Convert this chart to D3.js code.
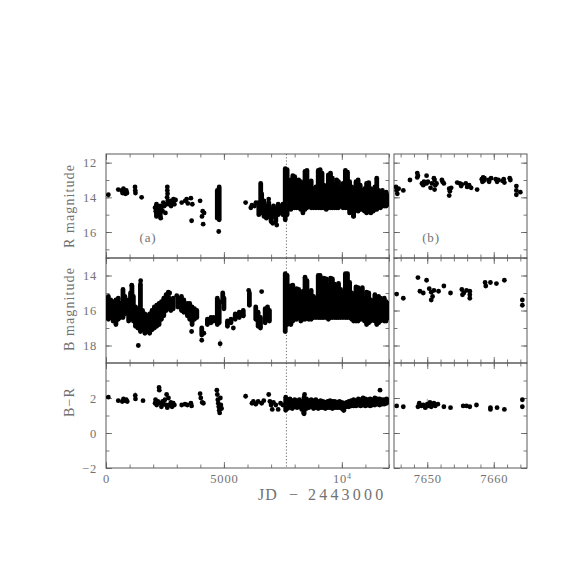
<!DOCTYPE html>
<html><head><meta charset="utf-8">
<script src="https://cdn.jsdelivr.net/npm/d3@7"></script>
<style>html,body{margin:0;padding:0;background:#fff}</style>
</head><body><svg id="c" width="574" height="574"></svg>
<script>
// ---------- DATA (JD - 2443000, magnitudes / colour) ----------
// Left panels: full light curve. Individual points [jd, value]
const rPoints = [[100,13.85],[520,13.55],[660,13.6],[700,13.75],[740,13.5],[780,13.65],[820,13.8],[860,13.6],[890,13.75],[1230,13.4],[1240,13.6],[1250,13.75],[1510,14.0],
 [2080,14.6],[2110,14.8],[2160,14.5],[2180,15.0],[2230,14.7],[2270,14.9],[2320,15.2],[2350,14.6],[2400,14.8],[2430,14.3],[2470,14.5],[2520,14.9],[2560,14.4],[2600,13.4],[2600,13.6],[2610,13.8],[2590,14.0],[2620,14.2],[2680,14.4],[2720,14.2],[2760,14.5],[2810,14.3],[2860,14.1],[2900,14.4],[2950,14.15],
 [3210,14.3],[3360,14.2],[3420,14.1],[3470,14.35],[3600,14.05],[3660,14.4],[3630,15.35],[3990,14.2],[4070,15.1],[4100,14.8],[4120,15.55],[4160,14.9],
 [4780,15.97],[5920,14.3],[6140,14.6],[6190,14.45],[6300,14.5],[6360,14.3],[6900,14.1],[7070,15.5],[7240,15.6],[10490,15.08]];
// Densely sampled nights: [jd, brightest, faintest]
const rColumns = [[2140,14.4,15.1],[2300,14.5,15.1],[4720,13.6,15.2],[4800,13.4,15.3],[6480,14.3,15.0],[6560,13.2,14.4],[6600,13.8,14.9],[6700,14.2,15.1],[6800,14.5,15.2],[6900,14.3,15.1],[7000,14.7,15.4],[7100,14.5,15.1],[7200,14.6,15.4],[7300,14.4,15.0],[7400,14.5,14.9],[7500,14.4,15.0],
 [7600,12.35,15.3],[7680,12.4,15.0],[7760,13.3,14.6],[7840,13.0,14.7],[7920,12.75,14.6],[8000,12.8,14.6],[8080,13.2,14.6],[8170,13.0,14.6],[8260,13.1,14.7],[8350,13.5,14.9],[8440,12.5,14.7],[8520,12.45,14.6],[8600,13.3,14.5],[8700,13.05,14.6],[8800,13.5,14.6],[8900,13.4,14.6],
 [9000,12.45,14.6],[9080,12.4,14.6],[9160,12.6,14.6],[9240,13.3,14.6],[9340,13.4,14.7],[9430,12.7,14.6],[9520,12.6,14.6],[9600,12.9,14.6],[9700,13.3,14.6],[9780,13.0,14.6],[9860,13.1,14.6],[9950,13.5,14.5],
 [10050,13.2,14.6],[10150,12.45,14.6],[10240,12.55,14.6],[10330,13.1,14.9],[10420,13.4,14.8],[10500,13.6,15.1],[10600,13.1,14.7],[10690,13.0,14.8],[10780,13.3,14.7],[10870,13.6,14.7],[10960,13.5,14.8],
 [11050,13.2,14.9],[11140,13.15,14.8],[11230,13.5,14.9],[11330,13.7,14.8],[11400,13.4,14.7],[11480,12.9,14.7],[11560,13.6,14.6],[11640,13.7,14.6],[11720,13.6,14.5],[11800,13.8,14.5],[11880,13.7,14.5],[11950,13.9,14.4]];

const bPoints = [[1370,18.0],[1470,14.3],[1090,14.55],[2640,14.95],[2700,15.0],[3000,15.15],[3630,17.2],[4060,17.7],[4840,17.9],[6050,14.85],[6600,14.92],[5400,17.0],[5820,16.3],[4150,17.3]];
const bColumns = [[30,15.3,16.2],[100,15.2,16.5],[200,15.4,16.4],[300,15.5,16.6],[420,15.4,16.8],[520,15.3,16.5],[600,15.6,16.4],[720,14.8,16.4],[800,15.2,16.2],[960,15.4,16.6],[1040,15.0,16.5],[1100,14.6,16.3],[1160,15.2,16.6],[1250,15.8,16.9],[1350,15.9,17.0],[1460,14.5,17.2],
 [1550,16.0,17.1],[1650,16.2,17.3],[1750,16.3,17.2],[1850,16.2,17.3],[1950,16.0,17.1],[2050,15.8,17.0],[2150,15.7,16.9],[2250,15.6,16.8],[2350,15.5,16.5],[2450,15.3,16.3],[2550,15.1,16.0],[2650,15.2,15.9],[2750,15.4,16.0],[2850,15.3,15.9],[3050,15.3,15.8],[3200,15.2,16.0],[3300,15.4,16.1],[3450,15.6,16.3],[3550,15.6,16.5],[3650,15.8,16.8],[3750,15.9,16.5],[3850,16.0,16.4],
 [4060,17.0,17.4],[4300,16.5,16.8],[4450,16.4,16.7],[4560,16.4,16.6],[4720,15.3,16.8],[4800,15.5,16.7],[4950,15.0,15.5],[5000,15.3,15.9],[5150,16.6,16.9],[5300,16.5,16.7],[5480,16.2,16.5],[5650,16.1,16.4],[5820,16.0,16.3],[6080,15.0,15.7],[6350,15.8,16.5],[6450,16.1,16.9],[6550,16.4,17.0],[6750,15.9,16.7],[6850,15.8,16.5],[6930,16.0,16.6],
 [7600,13.9,17.2],[7680,14.0,16.8],[7760,15.2,16.6],[7840,14.6,16.8],[7920,14.55,16.6],[8000,14.8,16.5],[8080,14.75,16.5],[8170,14.8,16.4],[8260,15.3,16.6],[8360,14.9,16.5],[8440,14.1,16.5],[8520,14.3,16.4],[8600,15.1,16.5],[8700,14.85,16.5],[8800,15.2,16.4],[8900,15.3,16.4],
 [9000,14.0,16.4],[9080,14.0,16.4],[9160,14.3,16.4],[9240,14.15,16.4],[9340,14.2,16.4],[9430,14.6,16.5],[9520,14.15,16.4],[9600,14.2,16.4],[9700,14.5,16.4],[9780,15.0,16.4],[9860,14.45,16.4],[9950,14.8,16.4],
 [10050,15.1,16.4],[10150,13.9,16.4],[10240,13.9,16.4],[10330,14.4,16.4],[10420,15.0,16.5],[10500,15.3,16.6],[10600,14.65,16.6],[10690,14.7,16.6],[10780,15.1,16.5],[10870,14.7,16.5],[10960,15.3,16.6],
 [11050,14.95,16.8],[11140,15.0,16.7],[11230,15.4,16.6],[11330,15.5,16.5],[11400,15.1,16.6],[11480,15.4,16.8],[11560,15.2,16.7],[11640,15.3,16.6],[11720,15.4,16.5],[11800,15.3,16.6],[11880,15.5,16.6],[11950,15.6,16.4]];

const brPoints = [[100,2.05],[520,1.85],[690,1.8],[740,1.95],[800,1.85],[860,1.9],[900,1.8],[1240,2.15],[1250,1.95],[1570,1.85],
 [2080,1.7],[2100,1.9],[2150,1.6],[2200,1.8],[2250,2.6],[2260,2.45],[2300,1.7],[2350,1.5],[2400,1.8],[2450,1.65],[2500,1.9],[2550,1.6],[2570,2.2],[2600,1.45],[2650,2.0],[2700,1.6],[2750,1.75],[2800,1.5],[2850,1.7],[2900,1.6],
 [3210,1.6],[3350,1.65],[3450,1.6],[3600,1.7],[3630,1.55],[3990,2.25],[4020,2.0],[4080,1.75],[4130,1.7],
 [4700,2.45],[4720,2.2],[4740,1.9],[4760,1.7],[4780,1.5],[4800,1.3],[4820,1.15],[4850,2.0],[4870,1.6],[4900,1.4],
 [5920,2.1],[6190,1.7],[6250,1.8],[6350,1.65],[6450,1.8],[6600,1.7],[6690,1.85],
 [6900,2.2],[6950,1.8],[7000,1.6],[7050,1.35],[7100,1.75],[7200,1.6],[7300,1.35],[7400,1.7],[7500,1.6],
 [8380,1.15],[8420,2.2],[10080,1.3],[11620,2.45]];
const brColumns = [[7620,2.05,1.3],[7700,1.9,1.4],[7800,1.95,1.45],[7900,1.85,1.4],[8000,1.9,1.5],[8100,1.85,1.45],[8200,1.9,1.5],[8300,1.8,1.35],[8400,2.05,1.1],[8500,1.95,1.4],[8600,1.85,1.45],[8700,1.9,1.5],[8800,1.85,1.4],[8900,1.9,1.45],
 [9000,1.8,1.4],[9100,1.85,1.45],[9200,1.8,1.45],[9300,1.75,1.4],[9400,1.8,1.45],[9500,1.85,1.45],[9600,1.8,1.4],[9700,1.8,1.45],[9800,1.75,1.45],[9900,1.8,1.45],
 [10000,1.75,1.4],[10080,1.7,1.3],[10200,1.75,1.5],[10300,1.8,1.5],[10400,1.85,1.55],[10500,1.9,1.55],[10600,1.85,1.55],[10700,1.95,1.6],[10800,1.9,1.55],[10900,2.0,1.6],
 [11000,1.95,1.55],[11100,1.9,1.6],[11200,1.95,1.55],[11300,1.9,1.6],[11400,2.0,1.6],[11500,1.95,1.65],[11600,1.95,1.6],[11700,1.9,1.65],[11800,1.9,1.65],[11900,1.95,1.7]];

// Right panels: zoom on JD 7645-7665
const rZoom = [[7645.3,13.4],[7645.4,13.6],[7645.5,13.8],[7645.7,13.5],[7646.4,13.6],[7647.4,13.0],[7648.5,12.6],[7648.6,12.75],[7648.5,12.85],
 [7649.2,13.2],[7649.4,13.3],[7649.5,13.1],[7649.9,12.75],[7649.9,13.2],[7650.1,13.1],[7650.5,13.45],[7650.7,13.2],[7651.0,12.9],[7651.1,13.0],[7651.2,13.3],[7651.4,13.2],[7651.1,13.55],
 [7652.2,13.0],[7652.3,13.1],[7652.5,13.2],[7653.3,13.5],[7653.4,13.65],[7653.3,13.9],[7653.6,13.45],[7654.5,13.15],[7654.9,13.2],[7655.2,13.25],[7655.1,13.35],
 [7655.8,13.2],[7656.0,13.4],[7656.3,13.3],[7656.6,13.45],[7657.5,13.55],[7658.2,12.95],[7658.3,13.1],[7658.4,12.85],[7658.5,13.05],[7658.6,12.9],
 [7659.2,13.0],[7659.3,13.1],[7659.6,12.9],[7660.3,12.95],[7660.5,13.1],[7660.7,13.0],[7661.3,13.05],[7661.5,12.95],[7661.6,13.15],[7662.4,12.9],[7662.5,13.0],
 [7663.4,13.35],[7663.4,13.6],[7663.4,13.85],[7664.0,13.7]];
const bZoom = [[7645.4,15.06],[7646.4,15.3],[7648.6,14.12],[7649.9,14.27],[7648.9,14.9],[7649.4,15.0],[7650.3,14.75],[7650.6,14.95],[7650.8,15.2],[7650.6,15.4],[7651.0,14.85],
 [7651.7,14.9],[7652.5,14.6],[7653.5,15.0],[7655.2,14.8],[7655.5,15.0],[7655.9,14.85],[7655.3,15.1],[7656.4,14.9],[7656.4,15.1],[7656.4,15.3],
 [7658.7,14.4],[7658.8,14.6],[7659.5,14.4],[7660.4,14.46],[7661.6,14.27],[7664.3,15.4],[7664.3,15.7]];
const brZoom = [[7645.4,1.55],[7646.4,1.5],[7648.6,1.5],[7648.8,1.7],[7649.1,1.55],[7649.4,1.6],[7649.7,1.45],[7650.0,1.65],[7650.2,1.55],[7650.4,1.75],[7650.6,1.5],[7650.8,1.6],[7651.0,1.7],[7651.2,1.55],
 [7651.6,1.65],[7652.5,1.5],[7653.5,1.45],[7655.4,1.55],[7655.9,1.55],[7656.4,1.5],[7657.4,1.6],[7659.5,1.45],[7659.5,1.35],[7660.5,1.45],[7661.6,1.35],[7664.3,1.9],[7664.3,1.5]];

// Error bars [jd, value, error]
const rErrors = [[4780,15.97,0.12]];
const bErrors = [[4840,17.9,0.25]];
const brErrors = [[1240,2.15,0.2],[5920,2.1,0.15]];
const brZoomErrors = [[7650.0,1.65,0.3]];

const xTicksLeft = [0,5000,10000];
const xTickLabelsLeft = ["0","5000","10"];
const xTicksRight = [7650,7660];
const rTicks = [12,14,16], bTicks = [14,16,18], brTicks = [-2,0,2];
const referenceJD = 7650;

// ---------- LAYOUT ----------
const svg = d3.select("#c");
const gray = "#727272", frameCol = "#5a5a5a", font = "Liberation Serif";
const xL = d3.scaleLinear().domain([0,12000]).range([106,389]);
const xR = d3.scaleLinear().domain([7645,7665]).range([394,527]);
const rows = [
  {y: d3.scaleLinear().domain([11.5,17.5]).range([154,258]), minor: d3.range(12,18,1), major: rTicks,
   pts: rPoints, cols: rColumns, zoom: rZoom, err: rErrors, zerr: [], label: "R magnitude", labY: 206},
  {y: d3.scaleLinear().domain([13,19]).range([258,363]), minor: d3.range(13,19,1), major: bTicks,
   pts: bPoints, cols: bColumns, zoom: bZoom, err: bErrors, zerr: [], label: "B magnitude", labY: 309},
  {y: d3.scaleLinear().domain([-2,4]).range([468,363]), minor: d3.range(-2,4,1), major: brTicks,
   pts: brPoints, cols: brColumns, zoom: brZoom, err: brErrors, zerr: brZoomErrors, label: "B\u2212R", labY: 402}
];

const defs = svg.append("defs");
function ticks(g, axisFn, scale, vals, size) {
  g.call(axisFn(scale).tickValues(vals).tickSize(-size).tickFormat(""))
   .call(a => a.select(".domain").remove())
   .selectAll("line").attr("stroke", frameCol).attr("stroke-width", 0.8);
}

rows.forEach((row, i) => {
  [[xL, "L", d3.range(0,12001,1000), xTicksLeft], [xR, "R", d3.range(7646,7665,2), xTicksRight]].forEach(([x, side, xminor, xmajor]) => {
    const [x0, x1] = x.range(), [y1, y0] = [Math.max(...row.y.range()), Math.min(...row.y.range())];
    const id = "clip" + i + side;
    defs.append("clipPath").attr("id", id).append("rect").attr("x", x0).attr("y", y0).attr("width", x1-x0).attr("height", y1-y0);
    const g = svg.append("g");
    // ticks on all four sides, inward
    ticks(g.append("g").attr("transform", `translate(0,${y1})`), d3.axisBottom, x, xminor, 3.5);
    ticks(g.append("g").attr("transform", `translate(0,${y1})`), d3.axisBottom, x, xmajor, 6);
    ticks(g.append("g").attr("transform", `translate(0,${y0})`), d3.axisTop, x, xminor, 3.5);
    ticks(g.append("g").attr("transform", `translate(0,${y0})`), d3.axisTop, x, xmajor, 6);
    ticks(g.append("g").attr("transform", `translate(${x0},0)`), d3.axisLeft, row.y, row.minor, 3.5);
    ticks(g.append("g").attr("transform", `translate(${x0},0)`), d3.axisLeft, row.y, row.major, 6);
    ticks(g.append("g").attr("transform", `translate(${x1},0)`), d3.axisRight, row.y, row.minor, 3.5);
    ticks(g.append("g").attr("transform", `translate(${x1},0)`), d3.axisRight, row.y, row.major, 6);
    g.append("rect").attr("x", x0).attr("y", y0).attr("width", x1-x0).attr("height", y1-y0)
      .attr("fill", "none").attr("stroke", frameCol).attr("stroke-width", 1);

    const d = g.append("g").attr("clip-path", `url(#${id})`);
    const pts = side === "L" ? row.pts : row.zoom;
    const errs = side === "L" ? row.err : row.zerr;
    if (side === "L") {
      d.append("line").attr("x1", x(referenceJD)).attr("x2", x(referenceJD)).attr("y1", y0).attr("y2", y1)
        .attr("stroke", "#444").attr("stroke-width", 0.8).attr("stroke-dasharray", "1.2,2");
      d.selectAll("line.col").data(row.cols).join("line").attr("class", "col")
        .attr("x1", c => x(c[0])).attr("x2", c => x(c[0]))
        .attr("y1", c => row.y(c[1])).attr("y2", c => row.y(c[2]))
        .attr("stroke", "#000").attr("stroke-width", 4.8).attr("stroke-linecap", "round");
    }
    d.selectAll("line.err").data(errs).join("line").attr("class", "err")
      .attr("x1", e => x(e[0])).attr("x2", e => x(e[0]))
      .attr("y1", e => row.y(e[1]-e[2])).attr("y2", e => row.y(e[1]+e[2]))
      .attr("stroke", "#888").attr("stroke-width", 0.8);
    d.selectAll("circle").data(pts).join("circle")
      .attr("cx", p => x(p[0])).attr("cy", p => row.y(p[1])).attr("r", 2.4).attr("fill", "#000");
  });

  // y tick labels (left panel only)
  const ya = svg.append("g").attr("transform", "translate(106,0)")
    .call(d3.axisLeft(row.y).tickValues(row.major).tickSize(0).tickPadding(9).tickFormat(v => v < 0 ? "\u2212" + Math.abs(v) : v));
  ya.select(".domain").remove();
  ya.selectAll("text").attr("font-family", font).attr("font-size", 12.5).attr("fill", gray).attr("letter-spacing", 0.8);

  svg.append("text").attr("transform", `translate(74,${row.labY}) rotate(-90)`)
    .attr("text-anchor", "middle").attr("font-family", font).attr("font-size", 14).attr("fill", gray)
    .attr("letter-spacing", 1.1).text(row.label);
});

// x tick labels
const xa = svg.append("g").attr("transform", "translate(0,468)")
  .call(d3.axisBottom(xL).tickValues(xTicksLeft).tickSize(0).tickPadding(6).tickFormat((v, i) => xTickLabelsLeft[i]));
xa.select(".domain").remove();
xa.selectAll("text").attr("font-family", font).attr("font-size", 12.5).attr("fill", gray).attr("letter-spacing", 0.8)
  .each(function(v) { if (v === 10000) d3.select(this).append("tspan").attr("dy", "-0.45em").attr("font-size", 8).text("4"); });
const xb = svg.append("g").attr("transform", "translate(0,468)")
  .call(d3.axisBottom(xR).tickValues(xTicksRight).tickSize(0).tickPadding(6).tickFormat(d3.format("d")));
xb.select(".domain").remove();
xb.selectAll("text").attr("font-family", font).attr("font-size", 12.5).attr("fill", gray).attr("letter-spacing", 0.8);

const xlab = svg.append("text").attr("y", 500).attr("font-family", font).attr("font-size", 16).attr("fill", gray);
xlab.append("tspan").attr("x", 258).attr("letter-spacing", 1).text("JD");
xlab.append("tspan").attr("x", 289).text("\u2212");
xlab.append("tspan").attr("x", 308).attr("letter-spacing", 3.2).text("2443000");

svg.append("text").attr("x", 148).attr("y", 242).attr("text-anchor", "middle").attr("font-family", font)
  .attr("font-size", 13).attr("fill", gray).attr("letter-spacing", 0.8).text("(a)");
svg.append("text").attr("x", 431).attr("y", 242).attr("text-anchor", "middle").attr("font-family", font)
  .attr("font-size", 13).attr("fill", gray).attr("letter-spacing", 0.8).text("(b)");
</script></body></html>
